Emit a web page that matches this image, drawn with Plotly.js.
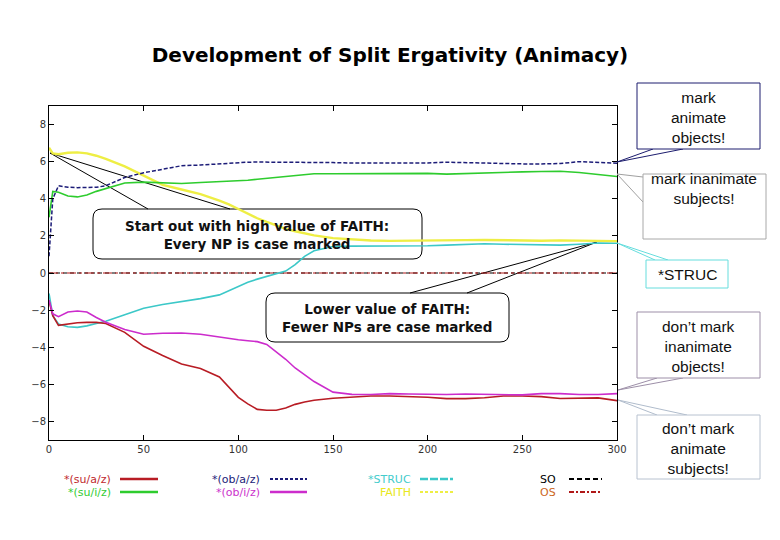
<!DOCTYPE html>
<html>
<head>
<meta charset="utf-8">
<script src="https://cdn.plot.ly/plotly-3.0.1.min.js"></script>
<style>
  body { margin: 0; background: #fff; }
  #chart { width: 780px; height: 540px; }
</style>
</head>
<body>
<div id="chart"></div>
<script>
// ─── data ───────────────────────────────────────────────────
var xs = [0, 2, 5, 10, 15, 20, 25, 30, 40, 50, 60, 70, 80, 90, 95, 100, 105, 110, 115, 120,
          125, 130, 135, 140, 150, 160, 170, 180, 190, 200, 210, 220, 230, 240, 250, 260, 270, 280, 290, 300];

var suAZ = [-1.5, -2.3, -2.82, -2.75, -2.68, -2.66, -2.66, -2.72, -3.2, -3.95, -4.45, -4.9, -5.15, -5.6, -6.15, -6.7, -7.05, -7.35, -7.4, -7.4,
            -7.28, -7.08, -6.95, -6.86, -6.75, -6.68, -6.63, -6.63, -6.65, -6.7, -6.77, -6.77, -6.72, -6.63, -6.63, -6.66, -6.76, -6.74, -6.73, -6.88];
var suIZ = [3.0, 4.4, 4.35, 4.15, 4.1, 4.2, 4.4, 4.55, 4.85, 4.9, 4.85, 4.82, 4.88, 4.92, 4.95, 4.98, 5.0, 5.05, 5.1, 5.15,
            5.2, 5.28, 5.33, 5.35, 5.35, 5.36, 5.37, 5.37, 5.38, 5.37, 5.33, 5.37, 5.4, 5.43, 5.45, 5.47, 5.48, 5.42, 5.3, 5.2];
var obAZ = [0.9, 4.0, 4.7, 4.62, 4.6, 4.6, 4.62, 4.7, 5.15, 5.4, 5.6, 5.78, 5.82, 5.88, 5.95, 5.97, 5.97, 5.98, 5.98, 5.97,
            5.96, 5.96, 5.96, 5.95, 5.95, 5.93, 5.92, 5.91, 5.92, 5.93, 5.97, 5.94, 5.9, 5.88, 5.88, 5.88, 5.9, 6.0, 5.95, 5.92];
var obIZ = [-1.45, -2.2, -2.35, -2.1, -2.05, -2.1, -2.4, -2.65, -3.05, -3.3, -3.25, -3.23, -3.3, -3.45, -3.55, -3.6, -3.65, -3.7, -3.85, -4.25,
            -4.65, -5.12, -5.5, -5.85, -6.42, -6.54, -6.55, -6.5, -6.52, -6.55, -6.55, -6.52, -6.55, -6.57, -6.57, -6.5, -6.5, -6.55, -6.55, -6.5];
var struc = [-1.1, -2.3, -2.75, -2.9, -2.93, -2.85, -2.72, -2.6, -2.25, -1.9, -1.7, -1.55, -1.38, -1.18, -0.95, -0.72, -0.5, -0.33, -0.2, -0.07,
             0.1, 0.45, 0.9, 1.2, 1.43, 1.45, 1.45, 1.45, 1.45, 1.47, 1.5, 1.55, 1.58, 1.55, 1.53, 1.5, 1.5, 1.55, 1.62, 1.6];
var faith = [6.75, 6.45, 6.4, 6.48, 6.5, 6.45, 6.32, 6.15, 5.75, 5.25, 4.75, 4.5, 4.25, 3.9, 3.7, 3.45, 3.2, 2.95, 2.75, 2.55,
             2.38, 2.25, 2.12, 2.03, 1.88, 1.8, 1.75, 1.73, 1.73, 1.74, 1.76, 1.77, 1.78, 1.76, 1.73, 1.74, 1.76, 1.75, 1.72, 1.72];
var flatX = [0, 300];
var soVals = [0, 0];
var osVals = [0, 0];

var xTicks = [0, 50, 100, 150, 200, 250, 300];
var yTicks = [-8, -6, -4, -2, 0, 2, 4, 6, 8];

// ─── plot frame in pixels (for callouts / legend) ──────────
var L = 49, R = 617, T = 106, B = 440;
function px(x) { return (x - L) / (R - L); }
function py(y) { return (B - y) / (B - T); }

var colors = {
  suAZ: '#b81c24', suIZ: '#2ecc2e', obAZ: '#1c1c78', obIZ: '#cc2ccc',
  struc: '#3cc8c8', faith: '#eeee44', so: '#000000', os: '#b01818'
};

var traces = [
  { x: flatX, y: soVals, line: { color: colors.so, width: 1.2, dash: '4px,3px' } },
  { x: flatX, y: osVals, line: { color: colors.os, width: 1.2, dash: 'dashdot' } },
  { x: xs, y: struc, line: { color: colors.struc, width: 1.6 } },
  { x: xs, y: faith, line: { color: colors.faith, width: 2.4 } },
  { x: xs, y: suAZ, line: { color: colors.suAZ, width: 1.6 } },
  { x: xs, y: obIZ, line: { color: colors.obIZ, width: 1.6 } },
  { x: xs, y: suIZ, line: { color: colors.suIZ, width: 1.6 } },
  { x: xs, y: obAZ, line: { color: colors.obAZ, width: 1.5, dash: '4px,2px' } }
].map(function (t) {
  t.type = 'scatter'; t.mode = 'lines'; t.hoverinfo = 'skip'; t.line.shape = 'linear';
  return t;
});

// ─── callouts ───────────────────────────────────────────────
function rect(x0, y0, x1, y1, color) {
  return { type: 'rect', xref: 'paper', yref: 'paper', x0: px(x0), x1: px(x1), y0: py(y1), y1: py(y0),
           line: { color: color, width: 1 }, fillcolor: 'rgba(255,255,255,1)', layer: 'above' };
}
// rounded callouts are see-through: curves show inside them, so draw them below the traces
function roundRect(x0, y0, x1, y1, r, color) {
  var p = 'M ' + px(x0 + r) + ' ' + py(y0) +
    ' L ' + px(x1 - r) + ' ' + py(y0) + ' Q ' + px(x1) + ' ' + py(y0) + ' ' + px(x1) + ' ' + py(y0 + r) +
    ' L ' + px(x1) + ' ' + py(y1 - r) + ' Q ' + px(x1) + ' ' + py(y1) + ' ' + px(x1 - r) + ' ' + py(y1) +
    ' L ' + px(x0 + r) + ' ' + py(y1) + ' Q ' + px(x0) + ' ' + py(y1) + ' ' + px(x0) + ' ' + py(y1 - r) +
    ' L ' + px(x0) + ' ' + py(y0 + r) + ' Q ' + px(x0) + ' ' + py(y0) + ' ' + px(x0 + r) + ' ' + py(y0);
  return { type: 'path', xref: 'paper', yref: 'paper', path: p, line: { color: color, width: 1 },
           fillcolor: 'rgba(0,0,0,0)', layer: 'below' };
}
function wedge(a, tip, b, color, layer) {
  var p = 'M ' + px(a[0]) + ' ' + py(a[1]) + ' L ' + px(tip[0]) + ' ' + py(tip[1]) + ' L ' + px(b[0]) + ' ' + py(b[1]);
  return { type: 'path', xref: 'paper', yref: 'paper', path: p, line: { color: color, width: 1 },
           fillcolor: 'rgba(0,0,0,0)', layer: layer || 'above' };
}
function label(x, y, text, size, color, bold, family) {
  return { xref: 'paper', yref: 'paper', x: px(x), y: py(y), text: bold ? '<b>' + text + '</b>' : text,
           showarrow: false, xanchor: 'center', yanchor: 'middle', align: 'center', bgcolor: 'rgba(0,0,0,0)',
           font: { family: family || 'Liberation Sans, Arial, sans-serif', size: size, color: color } };
}

var shapes = [
  wedge([653, 149], [617, 162], [683, 149], '#1c1c6e'),
  rect(637, 83, 760, 149, '#1c1c6e'),
  wedge([643, 177], [617, 174], [643, 202], '#a0a0a0'),
  rect(643, 174, 766, 239, '#a8a8a8'),
  wedge([655, 260], [617, 243], [668, 260], '#66dddd'),
  rect(646, 260, 728, 288, '#66dddd'),
  wedge([657, 378], [618, 390], [683, 378], '#9d8fa8'),
  rect(637, 312, 760, 378, '#9d8fa8'),
  wedge([657, 415], [618, 400], [687, 415], '#b0bccc'),
  rect(637, 415, 760, 479, '#b8c2d0'),
  wedge([148, 209], [50, 153], [230, 209], '#000', 'below'),
  roundRect(93, 209, 422, 259, 9, '#000'),
  wedge([410, 293], [597, 242], [467, 293], '#000', 'below'),
  roundRect(266, 293, 509, 342, 9, '#000')
];

var annotations = [
  label(698, 117, 'mark<br>animate<br>objects!', 15.5, '#111'),
  label(704, 188.5, 'mark inanimate<br>subjects!', 15.5, '#111'),
  label(687, 274, '*STRUC', 15.5, '#111'),
  label(698, 346, 'don’t mark<br>inanimate<br>objects!', 15.5, '#111'),
  label(698, 448, 'don’t mark<br>animate<br>subjects!', 15.5, '#111'),
  label(257, 235, 'Start out with high value of FAITH:<br>Every NP is case marked', 13.5, '#111', true, 'DejaVu Sans, sans-serif'),
  label(387, 318, 'Lower value of FAITH:<br>Fewer NPs are case marked', 13.5, '#111', true, 'DejaVu Sans, sans-serif')
];

// ─── legend (gnuplot style: text then sample) ──────────────
var legendItems = [
  { name: '*(su/a/z)', tx: 113, x0: 120, x1: 158, y: 479, key: 'suAZ', dash: 'solid', w: 2.5, tc: '#c0282d' },
  { name: '*(su/i/z)', tx: 113, x0: 120, x1: 158, y: 492, key: 'suIZ', dash: 'solid', w: 2.5, tc: '#33cc33' },
  { name: '*(ob/a/z)', tx: 262, x0: 270, x1: 307, y: 479, key: 'obAZ', dash: '3px,2px', w: 2, tc: '#1c1c78' },
  { name: '*(ob/i/z)', tx: 262, x0: 270, x1: 307, y: 492, key: 'obIZ', dash: 'solid', w: 2.5, tc: '#cc33cc' },
  { name: '*STRUC', tx: 413, x0: 420, x1: 453, y: 479, key: 'struc', dash: '8px,2px', w: 2.5, tc: '#44cccc' },
  { name: 'FAITH', tx: 413, x0: 420, x1: 453, y: 492, key: 'faith', dash: '3px,2px', w: 2, tc: '#e8e820' },
  { name: 'SO', tx: 558, x0: 569, x1: 602, y: 479, key: 'so', dash: '5px,3px', w: 2, tc: '#000' },
  { name: 'OS', tx: 558, x0: 569, x1: 602, y: 492, key: 'os', dash: '5px,2px,2px,2px', w: 2, tc: '#cc6622' }
];
legendItems.forEach(function (it) {
  shapes.push({ type: 'line', xref: 'paper', yref: 'paper', x0: px(it.x0), x1: px(it.x1), y0: py(it.y), y1: py(it.y),
                line: { color: colors[it.key], width: it.w, dash: it.dash } });
  annotations.push({ xref: 'paper', yref: 'paper', x: px(it.tx), y: py(it.y), text: it.name, showarrow: false,
                     xanchor: 'right', yanchor: 'middle', font: { family: 'DejaVu Sans, sans-serif', size: 11, color: it.tc } });
});

var axisFont = { family: 'DejaVu Sans, sans-serif', size: 10, color: '#333' };
var layout = {
  width: 780, height: 540, autosize: false,
  margin: { l: L, r: 780 - R, t: T, b: 540 - B, pad: 0 },
  paper_bgcolor: '#fff', plot_bgcolor: 'rgba(0,0,0,0)',
  showlegend: false, hovermode: false,
  title: { text: '<b>Development of Split Ergativity (Animacy)</b>', x: 0.5, xref: 'container', xanchor: 'center',
           y: 1 - 55 / 540, yref: 'container', yanchor: 'middle',
           font: { family: 'DejaVu Sans, sans-serif', size: 20, color: '#000' } },
  xaxis: { range: [0, 300], tickvals: xTicks, ticks: 'inside', ticklen: 5, tickcolor: '#000',
           showline: true, linecolor: '#000', linewidth: 1, mirror: 'ticks', showgrid: false, zeroline: false,
           tickfont: axisFont, fixedrange: true },
  yaxis: { range: [-9, 9], tickvals: yTicks, ticks: 'inside', ticklen: 5, tickcolor: '#000',
           showline: true, linecolor: '#000', linewidth: 1, mirror: 'ticks', showgrid: false, zeroline: false,
           tickfont: axisFont, fixedrange: true },
  shapes: shapes,
  annotations: annotations
};

Plotly.newPlot('chart', traces, layout, { staticPlot: true, displayModeBar: false });
</script>
</body>
</html>
